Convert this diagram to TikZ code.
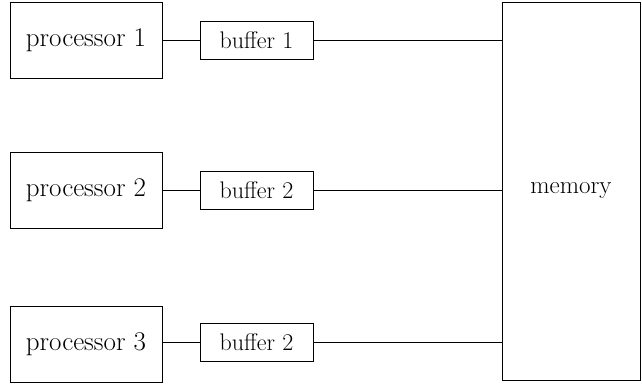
\documentclass[tikz,border=0pt]{standalone}
\begin{document}
\begin{tikzpicture}[x=1pt,y=-1pt,
  box/.style={draw,line width=0.8pt,inner sep=0pt,anchor=center},
  proc/.style={box,minimum width=152pt,minimum height=76pt,font=\fontsize{27}{31}\selectfont},
  buf/.style={box,minimum width=113pt,minimum height=38pt,font=\fontsize{24}{28}\selectfont},
  wire/.style={line width=0.8pt}]
\useasboundingbox (0,0) rectangle (642,384);
\node[proc] (p1) at (86,40) {processor 1};
\node[proc] (p2) at (86,190.5) {processor 2};
\node[proc] (p3) at (86,344) {processor 3};
\node[buf] (b1) at (256.5,40) {buffer 1};
\node[buf] (b2) at (256.5,190.5) {buffer 2};
\node[buf] (b3) at (256.5,342.5) {buffer 2};
\node[box,minimum width=138pt,minimum height=378pt,font=\fontsize{25}{29}\selectfont] (mem) at (571,191) {memory};
\draw[wire] (p1) -- (b1);
\draw[wire] (p2) -- (b2);
\draw[wire] (p3.east |- b3) -- (b3);
\draw[wire] (b1) -- (b1 -| mem.west);
\draw[wire] (b2) -- (b2 -| mem.west);
\draw[wire] (b3) -- (b3 -| mem.west);
\end{tikzpicture}
\end{document}
